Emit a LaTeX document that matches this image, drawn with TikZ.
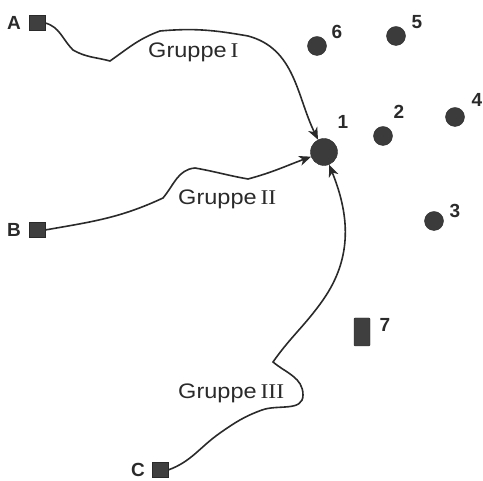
\documentclass[tikz,border=0pt]{standalone}
\usepackage{fontspec}
\setmainfont{Liberation Sans}
\newfontfamily\numfont{Liberation Serif}
\usetikzlibrary{arrows.meta}
\definecolor{ink}{HTML}{2A2A2A}
\tikzset{
  src/.style={draw=ink, fill=ink!90, minimum width=16pt, minimum height=15pt, inner sep=0pt},
  site/.style={circle, draw=ink, fill=ink!92, minimum size=19pt, inner sep=0pt},
  bigsite/.style={circle, draw=ink, fill=ink!92, minimum size=27pt, inner sep=0pt},
  lab/.style={font=\fontsize{19}{19}\selectfont\bfseries, text=ink, inner sep=0pt},
  grp/.style={font=\fontsize{21}{21}\selectfont, text=ink, inner sep=0pt, anchor=base west, xscale=1.12},
  route/.style={draw=ink, line width=1.6pt, -{Stealth[length=12pt,width=10pt,inset=3.5pt]}}
}
\begin{document}
\begin{tikzpicture}[x=1pt,y=1pt]
\useasboundingbox (0,0) rectangle (483,481);
% sources
\node[src] (A) at (37,458) {};
\node[lab] (lA) at (14,458) {A};
\node[src] (B) at (37,251) {};
\node[lab] (lB) at (14,251) {B};
\node[src] (C) at (160,11) {};
\node[lab] (lC) at (138,11) {C};
% sites
\node[bigsite] (n1) at (324,329) {};
\node[lab] (l1) at (343,359) {1};
\node[site] (n2) at (383,345) {};
\node[lab] (l2) at (399,369) {2};
\node[site] (n3) at (434,260) {};
\node[lab] (l3) at (455,270) {3};
\node[site] (n4) at (455,364) {};
\node[lab] (l4) at (477,381) {4};
\node[site] (n5) at (396,445) {};
\node[lab] (l5) at (417,459) {5};
\node[site] (n6) at (317,435) {};
\node[lab] (l6) at (337,449) {6};
\node[draw=ink, fill=ink!90, minimum width=16pt, minimum height=28pt, inner sep=0pt, rounded corners=1pt] (n7) at (362,149) {};
\node[lab] (l7) at (385,156) {7};
% routes
\coordinate (a1) at (73,431);
\coordinate (a2) at (110,420);
\coordinate (a3) at (160,450);
\coordinate (a4) at (248,445);
\draw[route] (A.east) to[out=-15,in=135] (a1) to[out=-30,in=165] (a2)
  to[out=35,in=200] (a3) to[out=5,in=170] (a4) to[out=-15,in=116] (n1);
\coordinate (b1) at (163,283);
\coordinate (b2) at (195,313);
\coordinate (b3) at (248,302);
\draw[route] (B.east) to[out=10,in=205] (b1) to[out=50,in=185] (b2)
  to[out=-10,in=170] (b3) to[out=15,in=200] (n1);
\coordinate (c1) at (220,48);
\coordinate (c2) at (262,71);
\coordinate (c3) at (303,86);
\coordinate (c4) at (273,119);
\coordinate (c5) at (323,181);
\draw[route] (C.east) to[out=20,in=215] (c1) to[out=35,in=200] (c2)
  to[out=20,in=-90] (c3) to[out=90,in=-40] (c4) to[out=55,in=235] (c5)
  to[out=55,in=-68] (n1);
% group labels
\node[grp] (g1) at (148,423) {Gruppe\,{\numfont I}};
\node[grp] (g2) at (178,276) {Gruppe\,{\numfont II}};
\node[grp] (g3) at (178,82) {Gruppe\,{\numfont III}};
\end{tikzpicture}
\end{document}
